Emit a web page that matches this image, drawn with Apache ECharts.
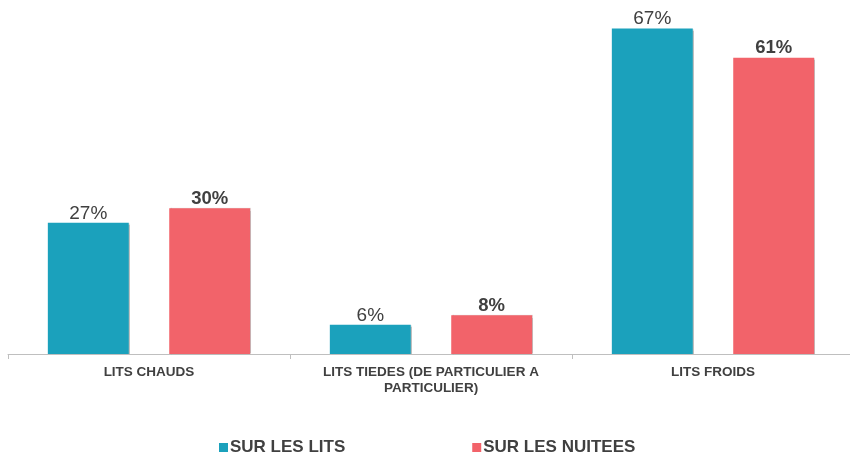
<!DOCTYPE html>
<html><head><meta charset="utf-8">
<script src="https://cdn.jsdelivr.net/npm/echarts@6/dist/echarts.min.js"></script>
<style>html,body{margin:0;padding:0;background:#fff;overflow:hidden}#c{width:856px;height:461px}</style>
</head><body><div id="c"></div>
<script>
const categories = ['LITS CHAUDS', 'LITS TIEDES (DE PARTICULIER A\nPARTICULIER)', 'LITS FROIDS'];
const seriesNames = ['SUR LES LITS', 'SUR LES NUITEES'];
const litsValues = [27, 6, 67];
const nuiteesValues = [30, 8, 61];
const colors = ['#1BA1BC', '#F2636A'];

const chart = echarts.init(document.getElementById('c'));
chart.setOption({
  animation: false,
  grid: { left: 8, width: 846, top: 14, bottom: 107, containLabel: false },
  legend: {
    bottom: 0, left: 214,
    itemWidth: 9, itemHeight: 9, itemGap: 127,
    icon: 'rect',
    textStyle: { fontFamily: 'Liberation Sans, Arial, sans-serif', fontSize: 17, fontWeight: 'bold', color: '#404040', padding: [0,0,0,-3] },
    data: seriesNames
  },
  xAxis: {
    type: 'category', data: categories,
    axisLine: { lineStyle: { color: '#bfbfbf' } },
    axisTick: { show: true, length: 5, lineStyle: { color: '#bfbfbf' } },
    axisLabel: { fontFamily: 'Liberation Sans, Arial, sans-serif', fontSize: 13.5, fontWeight: 'bold', color: '#404040', margin: 10, lineHeight: 16, interval: 0 }
  },
  yAxis: { type: 'value', min: 0, max: 70, show: false, splitLine: { show: false } },
  series: [
    { name: seriesNames[0], type: 'bar', data: litsValues, barWidth: '28.7%', barGap: '50%',
      itemStyle: { color: colors[0], shadowColor: 'rgba(0,0,0,0.25)', shadowOffsetX: 1, shadowBlur: 1 },
      label: { show: true, position: 'top', formatter: '{c}%', distance: 0, fontFamily: 'Liberation Sans, Arial, sans-serif', fontSize: 19, color: '#404040' } },
    { name: seriesNames[1], type: 'bar', data: nuiteesValues, barWidth: '28.7%',
      itemStyle: { color: colors[1], shadowColor: 'rgba(0,0,0,0.25)', shadowOffsetX: 1, shadowBlur: 1 },
      label: { show: true, position: 'top', formatter: '{c}%', distance: 0, fontFamily: 'Liberation Sans, Arial, sans-serif', fontSize: 18.5, fontWeight: 'bold', color: '#404040' } }
  ]
});
</script></body></html>
